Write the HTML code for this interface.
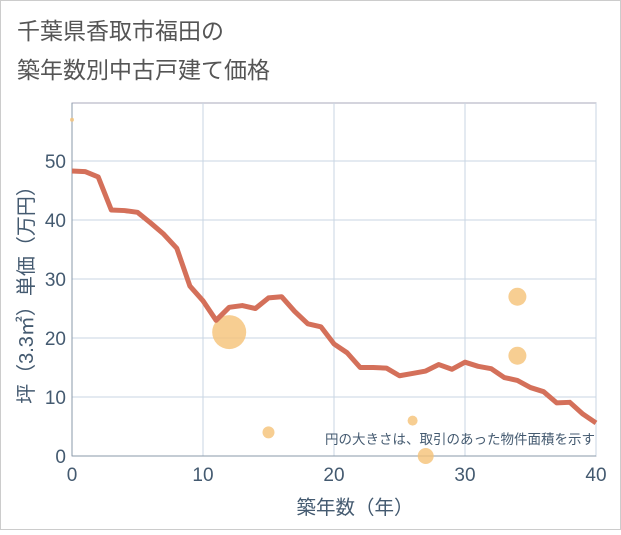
<!DOCTYPE html>
<html><head><meta charset="utf-8"><style>
body{margin:0;background:#fff;}
svg text{font-family:"Liberation Sans","Noto Sans CJK JP",sans-serif;}
</style></head><body>
<svg id="c" width="621" height="530" xmlns="http://www.w3.org/2000/svg">
<rect x="0.5" y="0.5" width="620" height="529" fill="#fff" stroke="#ccc"/>
<text x="17" y="39" font-size="23" fill="#555">千葉県香取市福田の</text>
<text x="17" y="78" font-size="23" fill="#555">築年数別中古戸建て価格</text>
<g id="plot"></g>
</svg>
<script>
const lineYears=[0,1,2,3,4,5,6,7,8,9,10,11,12,13,14,15,16,17,18,19,20,21,22,23,24,25,26,27,28,29,30,31,32,33,34,35,36,37,38,39,40];
const lineValues=[48.3,48.2,47.3,41.7,41.6,41.3,39.5,37.6,35.2,28.8,26.3,23.0,25.2,25.5,25.0,26.8,27.0,24.5,22.4,21.9,19.0,17.5,15.0,15.0,14.9,13.6,14.0,14.4,15.5,14.7,15.9,15.2,14.8,13.3,12.8,11.6,10.9,9.0,9.1,7.1,5.6];
const bubbleYears=[0,12,15,26,27,34,34];
const bubbleValues=[57,21,4,6,0,27,17];
const bubbleSizes=[2,17,6,5,8,9,9];
const xTicks=[0,10,20,30,40];
const yTicks=[0,10,20,30,40,50];
const L=72,R=596,T=103,B=456;
const xs=v=>L+(R-L)*v/40;
const ys=v=>B-(B-161)*v/50;
const NS='http://www.w3.org/2000/svg';
const g=document.getElementById('plot');
function mk(t,a,p){const e=document.createElementNS(NS,t);for(const k in a)e.setAttribute(k,a[k]);(p||g).appendChild(e);return e;}
mk('rect',{x:L,y:T,width:R-L,height:B-T,fill:'#fff',stroke:'#aab',"stroke-width":1});
yTicks.forEach(v=>{const l=mk('line',{x1:L,x2:R,y1:ys(v),y2:ys(v),stroke:'#c9d6e3'});

const t=mk('text',{x:L-6,y:ys(v)+7,"font-size":19,fill:'#445a70',"text-anchor":'end'});t.textContent=v;
});
xTicks.forEach(v=>{const l=mk('line',{x1:xs(v),x2:xs(v),y1:T,y2:B,stroke:'#c9d6e3'});

const t=mk('text',{x:xs(v),y:B+25,"font-size":19,fill:'#445a70',"text-anchor":'middle'});t.textContent=v;
});
mk('line',{x1:L,x2:L,y1:T,y2:B,stroke:'#8899aa'});
mk('line',{x1:L,x2:R,y1:B,y2:B,stroke:'#8899aa'});
bubbleYears.forEach((x,i)=>{const c=mk('circle',{cx:xs(x),cy:ys(bubbleValues[i]),r:bubbleSizes[i],fill:'#f5c277',"fill-opacity":0.8});
});
const p=mk('polyline',{points:lineYears.map((x,i)=>xs(x)+','+ys(lineValues[i])).join(' '),fill:'none',stroke:'#d4705a',"stroke-width":5,"stroke-linejoin":'round'});

const n=mk('text',{x:595,y:444,"font-size":13.5,fill:'#445a70',"text-anchor":'end'});n.textContent='円の大きさは、取引のあった物件面積を示す';

const xt=mk('text',{x:355,y:514,"font-size":19.5,fill:'#445a70',"text-anchor":'middle'});xt.textContent='築年数（年）';

const yt=mk('text',{x:0,y:0,"font-size":20,fill:'#445a70',"text-anchor":'middle',transform:'translate(33,290) rotate(-90)'});yt.textContent='坪（3.3㎡）単価（万円）';

</script>
</body></html>
